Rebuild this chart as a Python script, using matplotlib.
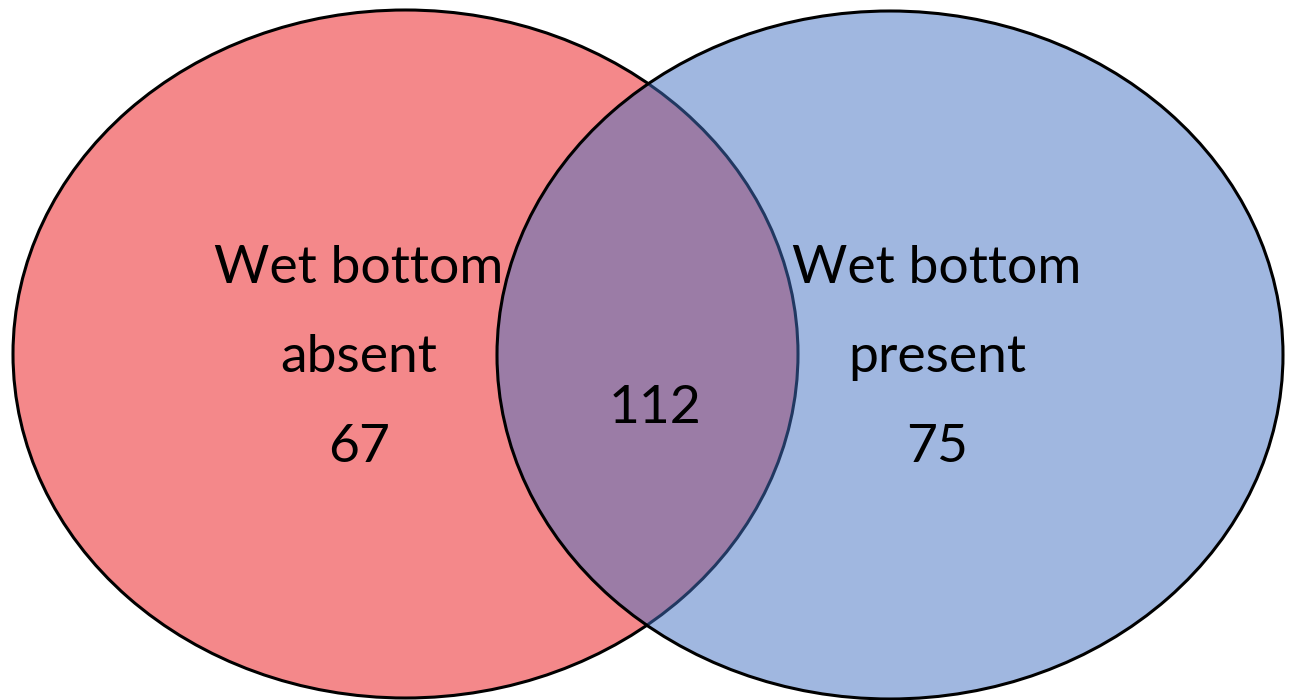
import matplotlib.pyplot as plt
from matplotlib.patches import Ellipse

# Venn data
set_names = ['Wet bottom\nabsent', 'Wet bottom\npresent']
only_counts = [67, 75]
both_count = 112

fig = plt.figure(figsize=(12.9, 7), dpi=100)
ax = fig.add_axes([0, 0, 1, 1])
ax.set_xlim(0, 1290)
ax.set_ylim(700, 0)
ax.axis('off')

# left set (red), right set (blue, half transparent on top)
left = Ellipse((405.5, 354), 785, 688, facecolor='#F4888A', edgecolor='black', lw=2.2)
ax.add_patch(left)
right = Ellipse((890, 355), 786, 688, facecolor='#4371C3', alpha=0.5, edgecolor='none')
ax.add_patch(right)
ax.add_patch(Ellipse((890, 355), 786, 688, facecolor='none', edgecolor='black', lw=2.2))

font = dict(family='Lato', fontsize=38.5, color='black', ha='center', va='baseline')

for x, name, n in zip([359, 937], set_names, only_counts):
    line1, line2 = name.split('\n')
    ax.text(x, 283, line1, **font)
    ax.text(x, 372, line2, **font)
    ax.text(x, 462, str(n), **font)

ax.text(655, 423, str(both_count), **font)

fig.savefig('out.png', dpi=100)
